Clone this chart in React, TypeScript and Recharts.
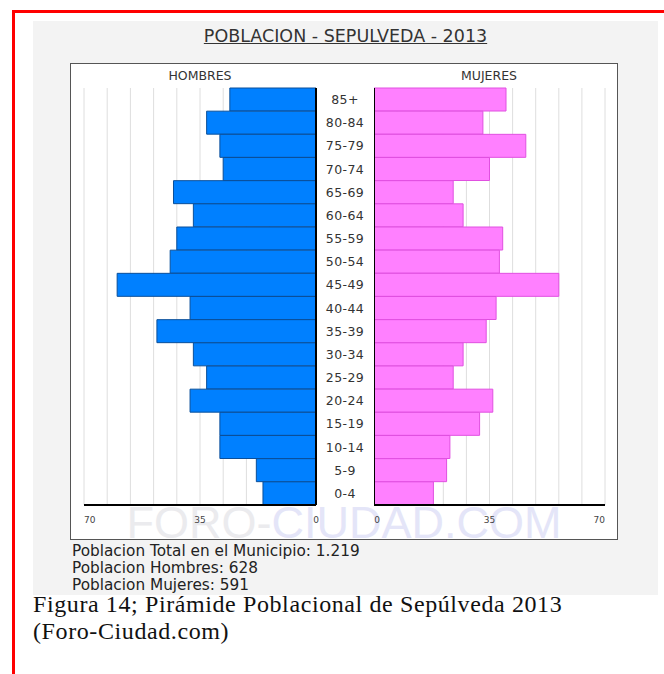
import { BarChart, Bar, XAxis, YAxis, CartesianGrid, ReferenceLine } from 'recharts'

const ageGroups = ['85+', '80-84', '75-79', '70-74', '65-69', '60-64', '55-59', '50-54', '45-49', '40-44', '35-39', '30-34', '25-29', '20-24', '15-19', '10-14', '5-9', '0-4']
const hombres = [26, 33, 29, 28, 43, 37, 42, 44, 60, 38, 48, 37, 33, 38, 29, 29, 18, 16]
const mujeres = [40, 33, 46, 35, 24, 27, 39, 38, 56, 37, 34, 27, 24, 36, 32, 23, 22, 18]
const gridTicks = [0, 7, 14, 21, 28, 35, 42, 49, 56, 63, 70]
const labelTicks = [0, 35, 70]
const resumen = ['Poblacion Total en el Municipio: 1.219', 'Poblacion Hombres: 628', 'Poblacion Mujeres: 591']

const data = ageGroups.map((age, i) => ({ age, hombres: hombres[i], mujeres: mujeres[i] }))

const sans = 'DejaVu Sans, Verdana, sans-serif'

function makeXTick(side: 'left' | 'right') {
  return (props: any) => {
    const { x, y, payload } = props
    if (!labelTicks.includes(payload.value)) return <g />
    let anchor: 'start' | 'middle' | 'end' = 'middle'
    let dx = 0
    if (payload.value === 70) anchor = side === 'left' ? 'start' : 'end'
    if (payload.value === 0 && side === 'right') dx = 3
    return (
      <text x={x + dx} y={y + 10} textAnchor={anchor} fontSize={9} fill="#444" fontFamily={sans}>
        {payload.value}
      </text>
    )
  }
}

function AgeTick(props: any) {
  const { x, y, payload } = props
  return (
    <text x={x} y={y} dy={4.5} textAnchor="middle" fontSize={12.5} fill="#333" fontFamily={sans} letterSpacing={0.4}>
      {payload.value}
    </text>
  )
}

export default function App() {
  return (
    <div style={{ position: 'absolute', left: 0, top: 0, width: 664, height: 674, background: '#fff', overflow: 'hidden' }}>
      <div style={{ position: 'absolute', left: 12, top: 10, width: 700, height: 700, borderLeft: '3px solid #ff0000', borderTop: '3px solid #ff0000' }} />
      <div style={{ position: 'absolute', left: 33, top: 21, width: 625, height: 574, background: '#f3f3f3' }} />
      <div style={{ position: 'absolute', left: 33, top: 26, width: 625, textAlign: 'center', fontFamily: sans, fontSize: 17.5, color: '#333', textDecoration: 'underline' }}>
        POBLACION - SEPULVEDA - 2013
      </div>
      <div style={{ position: 'absolute', left: 70, top: 63, width: 548, height: 477, border: '1px solid #555', background: '#fff', boxSizing: 'border-box' }} />
      <div style={{ position: 'absolute', left: 145, top: 68, width: 110, textAlign: 'center', fontFamily: sans, fontSize: 12.5, color: '#333' }}>HOMBRES</div>
      <div style={{ position: 'absolute', left: 434, top: 68, width: 110, textAlign: 'center', fontFamily: sans, fontSize: 12.5, color: '#333' }}>MUJERES</div>
      <div style={{ position: 'absolute', left: 70, top: 500, width: 548, textAlign: 'center', fontFamily: 'Liberation Sans, Arial, sans-serif', fontSize: 45, lineHeight: '45px', whiteSpace: 'nowrap' }}>
        <span style={{ color: '#ebebee' }}>FORO-</span>
        <span style={{ color: '#e4e5f8' }}>CIUDAD.COM</span>
      </div>

      <div style={{ position: 'absolute', left: 70, top: 63 }}>
        <BarChart layout="vertical" width={304} height={477} data={data} margin={{ top: 25, right: 0, bottom: 0, left: 14 }} barCategoryGap={0}>
          <CartesianGrid horizontal={false} stroke="#dedede" />
          <XAxis type="number" domain={[0, 70]} ticks={gridTicks} interval={0} reversed height={35} tickLine={false} axisLine={{ stroke: '#000', strokeWidth: 2 }} tick={makeXTick('left')} />
          <YAxis type="category" dataKey="age" orientation="right" width={58} interval={0} tickLine={false} tickSize={0} tickMargin={29} axisLine={{ stroke: '#000', strokeWidth: 2 }} tick={AgeTick} />
          <Bar dataKey="hombres" fill="#0080ff" stroke="#0a4f9a" strokeWidth={1} isAnimationActive={false} />
        </BarChart>
      </div>

      <div style={{ position: 'absolute', left: 374, top: 63 }}>
        <BarChart layout="vertical" width={244} height={477} data={data} margin={{ top: 25, right: 13, bottom: 0, left: 0 }} barCategoryGap={0}>
          <CartesianGrid horizontal={false} stroke="#dedede" />
          <XAxis type="number" domain={[0, 70]} ticks={gridTicks} interval={0} height={35} tickLine={false} axisLine={{ stroke: '#000', strokeWidth: 2 }} tick={makeXTick('right')} />
          <YAxis type="category" dataKey="age" hide />
          <Bar dataKey="mujeres" fill="#ff80ff" stroke="#e050e0" strokeWidth={1} isAnimationActive={false} />
          <ReferenceLine x={0} stroke="#000" strokeWidth={2} />
        </BarChart>
      </div>

      <div style={{ position: 'absolute', left: 72, top: 543, fontFamily: sans, fontSize: 15.3, lineHeight: '17px', color: '#222' }}>
        {resumen.map((line) => (
          <div key={line}>{line}</div>
        ))}
      </div>

      <div style={{ position: 'absolute', left: 33, top: 591, fontFamily: 'Liberation Serif, Times New Roman, serif', fontSize: 24, lineHeight: '27px', letterSpacing: 0.6, color: '#111' }}>
        <div>Figura 14; Pirámide Poblacional de Sepúlveda 2013</div>
        <div>(Foro-Ciudad.com)</div>
      </div>
    </div>
  )
}
